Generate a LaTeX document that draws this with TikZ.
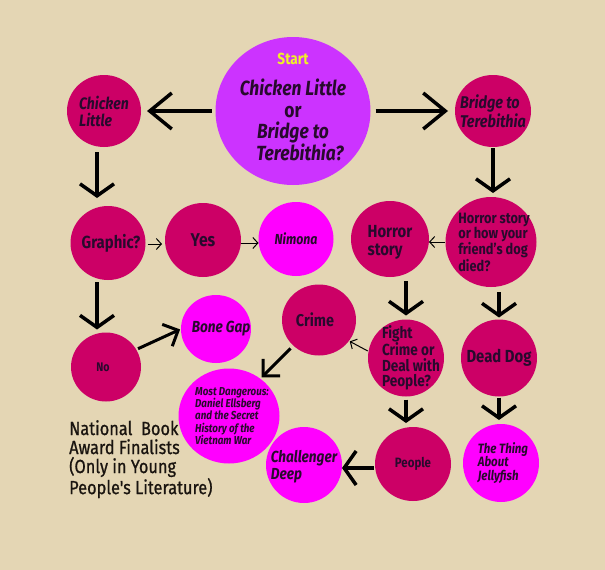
\documentclass[tikz,border=0pt]{standalone}
\usepackage{fontspec}
\setmainfont{Fira Sans}[FakeStretch=0.85]
\newfontfamily\legendfont{Fira Sans}[FakeStretch=0.86, FakeBold=0.8]
\usetikzlibrary{shapes.geometric}
\usetikzlibrary{arrows.meta}
\definecolor{paper}{RGB}{228,214,180}
\definecolor{crim}{RGB}{204,0,102}
\definecolor{pinky}{RGB}{255,0,255}
\definecolor{startvio}{RGB}{204,51,255}
\definecolor{startyel}{RGB}{240,240,40}
\definecolor{ink}{RGB}{40,10,45}
\definecolor{legendink}{RGB}{25,20,15}

\begin{document}
\begin{tikzpicture}[
  x=1pt, y=-1pt,
  bub/.style={ellipse, inner sep=0pt, outer sep=0pt},
  crimbub/.style={bub, fill=crim},
  pinkbub/.style={bub, fill=pinky},
  startbub/.style={bub, fill=startvio},
  lbl/.style 2 args={text=ink, align=left, inner sep=0pt, font=\bfseries\fontsize{#1}{#2}\selectfont},
  itl/.style 2 args={lbl={#1}{#2}, font=\bfseries\itshape\fontsize{#1}{#2}\selectfont},
  legend/.style={align=left, text=legendink, inner sep=0pt, font=\legendfont\fontsize{19}{19}\selectfont},
  bigarrow/.style={line width=3.5pt, -{Straight Barb[length=12pt,width=34pt]}},
  longarrow/.style={line width=3.5pt, -{Straight Barb[length=22pt,width=36pt]}},
  cornerarrow/.style={line width=3pt, -{Straight Barb[length=12pt,width=24pt]}},
  thinarrow/.style={line width=1pt, -{Straight Barb[length=5pt,width=11pt]}}
]
\useasboundingbox (0,0) rectangle (605,570);
\fill[paper] (0,0) rectangle (605,570);

% Top: the first question
\node[startbub, minimum width=155pt, minimum height=148pt,
  label={[lbl={20.5}{21.5}, align=center, yshift=-9pt]center:{{\itshape Chicken Little}\\or\\{\itshape Bridge to}\hspace*{10pt}\\\hspace*{14pt}{\itshape Terebithia?}}}] (start) at (293,111) {};
\node[lbl={16}{17}, text=startyel] (startword) at (293,59) {Start};

\node[crimbub, minimum width=74pt, minimum height=72pt,
  label={[itl={16.5}{17}]center:{Chicken\\Little}}] (cl) at (104,111) {};
\node[crimbub, minimum width=76pt, minimum height=72pt,
  label={[itl={17}{17}]center:{Bridge to\\Terebithia}}] (bridge) at (493,111) {};

\draw[longarrow, shorten <=4pt, shorten >=6pt] (start) -- (cl);
\draw[longarrow, shorten <=5pt, shorten >=7pt] (start) -- (bridge);

% Left branch
\node[crimbub, minimum width=75pt, minimum height=74pt,
  label={[lbl={17.5}{19}, xshift=3pt]center:{Graphic?}}] (graphic) at (108,243) {};
\node[crimbub, minimum width=76pt, minimum height=74pt,
  label={[lbl={18.5}{20}]center:{Yes}}] (yes) at (203,240) {};
\node[pinkbub, minimum width=75pt, minimum height=74pt,
  label={[itl={14.5}{16}]center:{Nimona}}] (nimona) at (296,239) {};
\node[crimbub, minimum width=70pt, minimum height=69pt,
  label={[lbl={12.5}{14}, xshift=-3pt]center:{No}}] (no) at (106,367) {};
\node[pinkbub, minimum width=70pt, minimum height=68pt,
  label={[itl={16}{17}, xshift=5pt]center:{Bone Gap}}] (bonegap) at (216,329) {};

\draw[bigarrow, shorten <=5pt, shorten >=8pt] ([xshift=-7pt]cl.south) -- ([xshift=-7pt]cl.south |- graphic.north);
\draw[thinarrow, shorten <=2pt, shorten >=3pt] ([yshift=-1pt]graphic.east) -- ([yshift=-1pt]graphic.east -| yes.west);
\draw[thinarrow] ([yshift=-3pt]yes.east) -- ([yshift=-3pt]yes.east -| nimona.west);
\draw[bigarrow, shorten <=2pt, shorten >=3pt] ([xshift=-11pt]graphic.south) -- ([xshift=-11pt]graphic.south |- no.north);
\draw[cornerarrow, shorten <=2pt, shorten >=1pt] (no.30) -- (bonegap.west);

% Right branch
\node[crimbub, minimum width=91pt, minimum height=90pt,
  label={[lbl={15}{15}, xshift=3pt]center:{Horror story\\or how your\\friend's dog\\died?}}] (hsdog) at (491,242) {};
\node[crimbub, minimum width=78pt, minimum height=76pt,
  label={[lbl={17.5}{18}, yshift=-3pt]center:{Horror\\story}}] (horror) at (390,239) {};
\node[crimbub, minimum width=76pt, minimum height=77pt,
  label={[lbl={17.5}{20}]center:{Dead Dog}}] (deaddog) at (499,358) {};
\node[crimbub, minimum width=76pt, minimum height=77pt,
  label={[lbl={16}{15.5}, xshift=5pt]center:{Fight\\Crime or\\Deal with\\People?}}] (fight) at (406,358) {};
\node[crimbub, minimum width=74pt, minimum height=71pt,
  label={[lbl={17}{19}, xshift=-4pt]center:{Crime}}] (crime) at (319,320) {};
\node[pinkbub, minimum width=101pt, minimum height=95pt,
  label={[itl={11.5}{12.3}, xshift=3pt]center:{Most Dangerous:\\Daniel Ellsberg\\and the Secret\\History of the\\Vietnam War}}] (mostdang) at (229,416) {};
\node[crimbub, minimum width=76pt, minimum height=74pt,
  label={[lbl={13.5}{15}]center:{People}}] (people) at (413,464) {};
\node[pinkbub, minimum width=76pt, minimum height=76pt,
  label={[itl={16}{17}, yshift=-2pt]center:{Challenger\\Deep}}] (challenger) at (304,465) {};
\node[pinkbub, minimum width=76pt, minimum height=78pt,
  label={[itl={13.5}{13.5}, xshift=2pt]center:{The Thing\\About\\Jellyfish}}] (jelly) at (501,463) {};

\draw[bigarrow, shorten <=1pt, shorten >=4pt] (bridge.south) -- (bridge.south |- hsdog.north);
\draw[thinarrow, shorten <=1pt] (hsdog.west) -- (hsdog.west -| horror.east);
\draw[bigarrow, shorten <=4pt, shorten >=4pt] (fight.north |- horror.south) -- (fight.north);
\draw[bigarrow, shorten <=5pt, shorten >=2pt] (deaddog.north |- hsdog.south) -- (deaddog.north);
\draw[thinarrow, shorten <=1pt, shorten >=1pt] (fight.170) -- (crime.-35);
\draw[cornerarrow, shorten <=4pt, shorten >=2pt] (crime.225) -- (mostdang.50);
\draw[bigarrow, shorten <=3pt, shorten >=4pt] (fight.south) -- (fight.south |- people.north);
\draw[bigarrow, shorten <=1pt, shorten >=4pt] (deaddog.south) -- (deaddog.south |- jelly.north);
\draw[bigarrow, shorten <=1pt] ([yshift=-4pt]people.west) -- ([yshift=-4pt]people.west -| challenger.east);

% Legend
\node[legend, anchor=north west] (award) at (69,420) {National\ \ Book\\Award Finalists\\(Only in Young\\People's Literature)};

\end{tikzpicture}
\end{document}
